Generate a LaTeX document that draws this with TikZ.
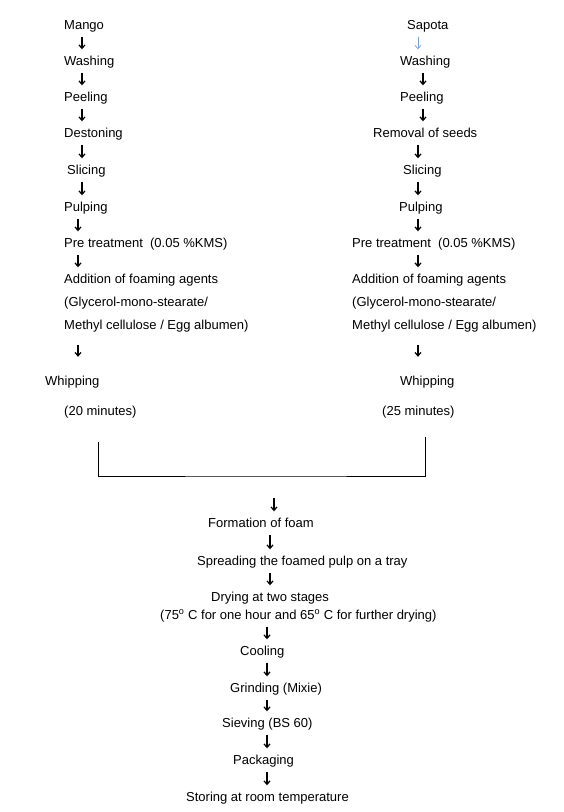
\documentclass[tikz,border=0pt]{standalone}
\usepackage{fontspec}
\setmainfont{Liberation Sans}
\usetikzlibrary{arrows.meta,positioning}

\definecolor{paleblue}{RGB}{120,160,210}

\begin{document}
\begin{tikzpicture}[x=1pt,y=-1pt]
            \tikzstyle{stage}=[anchor=west,inner sep=0pt,text height=11pt,text depth=3pt,font=\fontsize{13}{15}\selectfont]
            \tikzstyle{flow}=[line width=1.2pt,-{Straight Barb[length=3.5pt,width=6pt]},shorten <=4.5pt,shorten >=4.5pt]
            \tikzstyle{thinflow}=[flow,line width=0.7pt,color=paleblue]

            \useasboundingbox (0,0) rectangle (563,812);

            % mango line
            \node[stage] (mango)   at (64, 25) {Mango};
            \node[stage] (washL)   at (64, 61) {Washing};
            \node[stage] (peelL)   at (64, 97) {Peeling};
            \node[stage] (destone) at (64,133) {Destoning};
            \node[stage] (sliceL)  at (67,170) {Slicing};
            \node[stage] (pulpL)   at (64,207) {Pulping};
            \node[stage] (preL)    at (64,243) {Pre treatment\ \ (0.05 \%KMS)};
            \node[stage] (addL)    at (64,279) {Addition of foaming agents};
            \node[stage] (glyL)    at (64,302) {(Glycerol-mono-stearate/};
            \node[stage] (methL)   at (64,325) {Methyl cellulose / Egg albumen)};
            \node[stage] (whipL)   at (45,381) {Whipping};
            \node[stage] (minL)    at (64,411) {(20 minutes)};

            % sapota line
            \node[stage] (sapota)  at (407, 25) {Sapota};
            \node[stage] (washR)   at (400, 61) {Washing};
            \node[stage] (peelR)   at (400, 97) {Peeling};
            \node[stage] (seeds)   at (373,133) {Removal of seeds};
            \node[stage] (sliceR)  at (403,170) {Slicing};
            \node[stage] (pulpR)   at (399,207) {Pulping};
            \node[stage] (preR)    at (352,243) {Pre treatment\ \ (0.05 \%KMS)};
            \node[stage] (addR)    at (352,279) {Addition of foaming agents};
            \node[stage] (glyR)    at (352,302) {(Glycerol-mono-stearate/};
            \node[stage] (methR)   at (352,325) {Methyl cellulose / Egg albumen)};
            \node[stage] (whipR)   at (400,381) {Whipping};
            \node[stage] (minR)    at (382,411) {(25 minutes)};

            % common line
            \node[stage] (foam)    at (208,523) {Formation of foam};
            \node[stage] (spread)  at (197,561) {Spreading the foamed pulp on a tray};
            \node[stage] (dry)     at (211,597) {Drying at two stages};
            \node[stage] (dryT)    at (160,615) {(75\textsuperscript{o} C for one hour and 65\textsuperscript{o} C for further drying)};
            \node[stage] (cool)    at (240,651) {Cooling};
            \node[stage] (grind)   at (230,688) {Grinding (Mixie)};
            \node[stage] (sieve)   at (222,723) {Sieving (BS 60)};
            \node[stage] (pack)    at (233,760) {Packaging};
            \node[stage] (store)   at (186,797) {Storing at room temperature};

            \draw[flow] (mango.south -| 82,0)   -- (washL.north -| 82,0);
            \draw[flow] (washL.south -| 82,0)   -- (peelL.north -| 82,0);
            \draw[flow] (peelL.south -| 82,0)   -- (destone.north -| 82,0);
            \draw[flow] (destone.south -| 82,0) -- (sliceL.north -| 82,0);
            \draw[flow] (sliceL.south -| 82,0)  -- (pulpL.north -| 82,0);
            \draw[flow] (pulpL.south -| 78,0)   -- (preL.north -| 78,0);
            \draw[flow] (preL.south -| 78,0)    -- (addL.north -| 78,0);
            \draw[flow,shorten <=13pt,shorten >=17pt] (methL.south -| 78,0) -- (whipL.north -| 78,0);

            \draw[thinflow] (sapota.south -| 418,0) -- (washR.north -| 418,0);
            \draw[flow] (washR.south -| 423,0)  -- (peelR.north -| 423,0);
            \draw[flow] (peelR.south -| 423,0)  -- (seeds.north -| 423,0);
            \draw[flow] (seeds.south -| 418,0)  -- (sliceR.north -| 418,0);
            \draw[flow] (sliceR.south -| 418,0) -- (pulpR.north -| 418,0);
            \draw[flow] (pulpR.south -| 418,0)  -- (preR.north -| 418,0);
            \draw[flow] (preR.south -| 418,0)   -- (addR.north -| 418,0);
            \draw[flow,shorten <=13pt,shorten >=17pt] (methR.south -| 418,0) -- (whipR.north -| 418,0);

            % joining bracket
            \coordinate (jl)   at (98,442);
            \coordinate (jr)   at (425,437);
            \coordinate (join) at (270,476);
            \draw[line width=0.9pt] (jl) |- (join) -| (jr);

            \coordinate (drop) at (274,498);
            \draw[flow,shorten <=0pt] (drop) -- (foam.north -| drop);
            \draw[flow] (foam.south -| 270,0)   -- (spread.north -| 270,0);
            \draw[flow] (spread.south -| 270,0) -- (dry.north -| 270,0);
            \draw[flow] (dryT.south -| 267,0)   -- (cool.north -| 267,0);
            \draw[flow] (cool.south -| 267,0)   -- (grind.north -| 267,0);
            \draw[flow] (grind.south -| 267,0)  -- (sieve.north -| 267,0);
            \draw[flow] (sieve.south -| 267,0)  -- (pack.north -| 267,0);
            \draw[flow] (pack.south -| 267,0)   -- (store.north -| 267,0);
        \end{tikzpicture}
\end{document}
